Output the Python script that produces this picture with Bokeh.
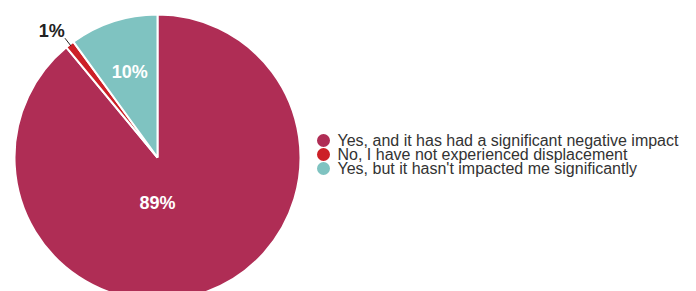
import numpy as np
from bokeh.plotting import figure
from bokeh.models import Range1d
from bokeh.core.properties import value
from bokeh.embed import file_html
from bokeh.resources import INLINE

categories = ["Yes, and it has had a significant negative impact",
              "No, I have not experienced displacement",
              "Yes, but it hasn't impacted me significantly"]
values = [89, 1, 10]
labels = ["89%", "1%", "10%"]
colors = ["#AF2D55", "#CC2027", "#7FC3C1"]

W, H = 690, 291
p = figure(width=W, height=H, output_backend="svg", toolbar_location=None,
           x_range=Range1d(0, W), y_range=Range1d(0, H), min_border=0)
p.axis.visible = False
p.grid.visible = False
p.outline_line_color = None
p.background_fill_color = "white"
p.border_fill_color = "white"

cx, cy, R = 157, 134, 143
vals = np.array(values, dtype=float)
frac = vals / vals.sum()
cum = np.concatenate([[0], np.cumsum(frac)])
start = np.pi / 2 - 2 * np.pi * cum[:-1]
end = np.pi / 2 - 2 * np.pi * cum[1:]
p.wedge(x=cx, y=cy, radius=R, start_angle=list(start), end_angle=list(end),
        direction="clock", fill_color=colors, line_color="white", line_width=2)

mid = (start + end) / 2
# label placement (radius, angle) per slice
lab_r = [45, 165, 90]
lab_a = [-np.pi / 2, mid[1] + 0.036, mid[2]]
lab_col = ["white", "#222222", "white"]
for i in range(3):
    lx = cx + lab_r[i] * np.cos(lab_a[i])
    ly = cy + lab_r[i] * np.sin(lab_a[i])
    p.text(x=[lx], y=[ly], text=[labels[i]], text_font=value("Liberation Sans"),
           text_font_size="18px", text_font_style="bold", text_color=lab_col[i],
           text_align="center", text_baseline="middle")

# leader line for small slice
a = mid[1]
p.line(x=[cx + 141 * np.cos(a), cx + 151 * np.cos(a)],
       y=[cy + 141 * np.sin(a), cy + 151 * np.sin(a)], line_color="#222222", line_width=1)

# legend
ly0 = [151, 137, 123]
p.scatter(x=[323] * 3, y=ly0, size=13, fill_color=colors, line_color=None)
p.text(x=[337] * 3, y=ly0, text=categories, text_font=value("Liberation Sans"),
       text_font_size="16px", text_color="#333333", text_baseline="middle")

open("out.html", "w").write(file_html(p, INLINE))
